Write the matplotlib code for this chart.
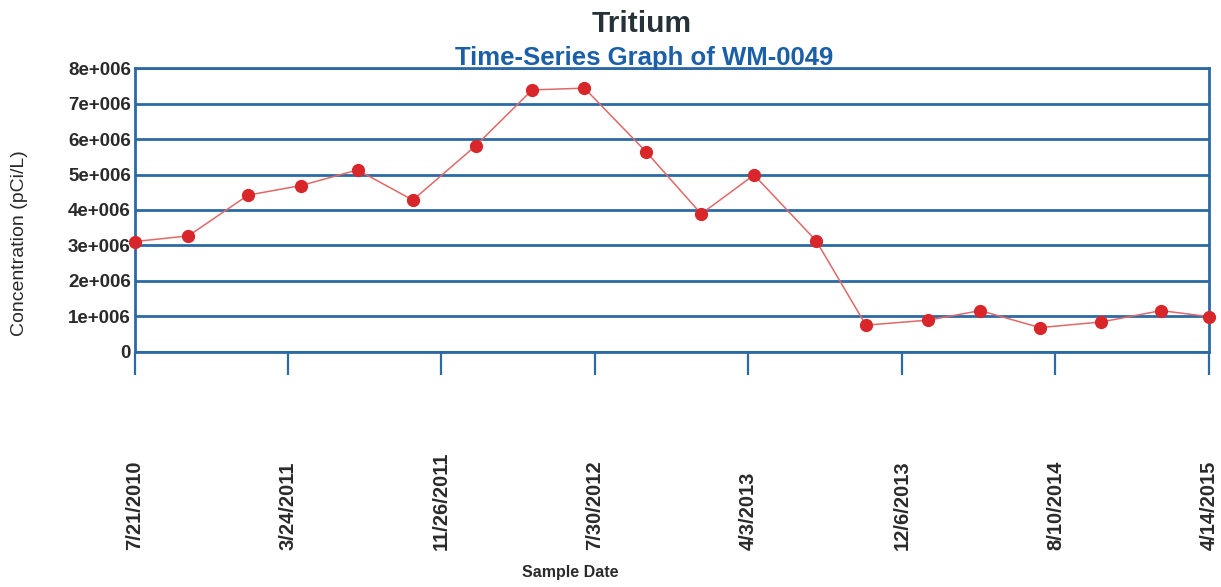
import matplotlib
matplotlib.use('Agg')
import matplotlib.pyplot as plt
import pandas as pd

# sample dates and tritium concentrations (pCi/L)
sample_dates = ['2010-07-21', '2010-10-15', '2011-01-19', '2011-04-14', '2011-07-14',
                '2011-10-11', '2012-01-20', '2012-04-20', '2012-07-13', '2012-10-20',
                '2013-01-17', '2013-04-12', '2013-07-21', '2013-10-09', '2014-01-17',
                '2014-04-11', '2014-07-16', '2014-10-23', '2015-01-27', '2015-04-14']
concentration = [3.11e6, 3.27e6, 4.42e6, 4.69e6, 5.13e6,
                 4.28e6, 5.81e6, 7.39e6, 7.44e6, 5.65e6,
                 3.89e6, 4.99e6, 3.13e6, 0.75e6, 0.89e6,
                 1.16e6, 0.68e6, 0.84e6, 1.16e6, 0.99e6]

tick_labels = ['7/21/2010', '3/24/2011', '11/26/2011', '7/30/2012',
               '4/3/2013', '12/6/2013', '8/10/2014', '4/14/2015']
y_ticks = [0, 1e6, 2e6, 3e6, 4e6, 5e6, 6e6, 7e6, 8e6]
y_tick_labels = ['0', '1e+006', '2e+006', '3e+006', '4e+006', '5e+006', '6e+006', '7e+006', '8e+006']

plt.rcParams['font.family'] = ['Liberation Sans', 'DejaVu Sans']

blue = '#2c6aa6'
text_dark = '#2a2a2a'

W, H = 1221, 587
fig = plt.figure(figsize=(W / 100, H / 100), dpi=100)
ax = fig.add_axes([135 / W, 1 - 351.7 / H, (1209 - 135) / W, (351.7 - 68.3) / H])

x = pd.to_datetime(sample_dates)
ax.plot(x, concentration, color='#e06868', linewidth=1.1, zorder=3)
ax.plot(x, concentration, 'o', color='#d8262a', markersize=8.5, zorder=4, clip_on=False)

tick_pos = pd.to_datetime(tick_labels, format='%m/%d/%Y')
ax.set_xlim(tick_pos[0], tick_pos[-1])
ax.set_xticks(tick_pos)
ax.set_xticklabels(tick_labels, rotation=90, fontsize=14.5, fontweight='bold', color=text_dark)
plt.setp(ax.get_xticklabels(), va='bottom', ha='center')
ax.tick_params(axis='x', length=16.5, width=1.6, color=blue, pad=126)

ax.set_ylim(0, 8e6)
ax.set_yticks(y_ticks)
ax.set_yticklabels(y_tick_labels, fontsize=13.5, fontweight='bold', color=text_dark)
ax.tick_params(axis='y', length=0, pad=3)

ax.yaxis.grid(True, color=blue, linewidth=2)
ax.set_axisbelow(True)
for s in ax.spines.values():
    s.set_color(blue)
    s.set_linewidth(2)

fig.text(642 / W, 1 - 32 / H, 'Tritium', ha='center', va='baseline',
         fontsize=21.5, fontweight='bold', color='#263238')
fig.text(644 / W, 1 - 65 / H, 'Time-Series Graph of WM-0049', ha='center', va='baseline',
         fontsize=18.5, fontweight='bold', color='#1a5fa8')
fig.text(20 / W, 1 - 243 / H, 'Concentration (pCi/L)', rotation=90, ha='center', va='center',
         fontsize=14, color=text_dark)
fig.text(570 / W, 1 - 573 / H, 'Sample Date', ha='center', va='center',
         fontsize=11.5, fontweight='bold', color=text_dark)

fig.savefig('out.png', dpi=100)
